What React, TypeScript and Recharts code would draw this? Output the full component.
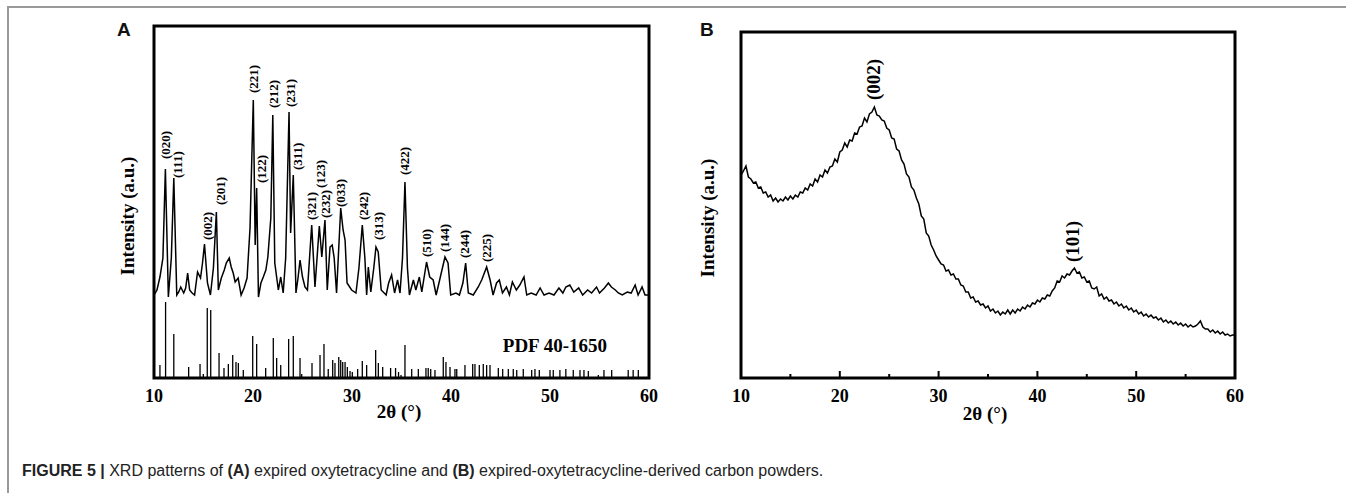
import React from 'react';
import { ComposedChart, Line, XAxis, YAxis, ReferenceLine, ReferenceArea, Scatter } from 'recharts';

const SERIF = '"Liberation Serif", "Times New Roman", serif';
const SANS = '"Liberation Sans", Arial, sans-serif';

// 2θ ticks shared by both panels
const thetaTicks = [10, 20, 30, 40, 50, 60];

// Panel A: measured pattern [2θ, intensity a.u.]
const patternA: [number, number][] = [
  [10.0, 83], [10.3, 88], [10.6, 101], [10.9, 120], [11.15, 209], [11.45, 81], [11.75, 120], [12.0, 200],
  [12.3, 83], [12.5, 86], [12.7, 91], [13.0, 85], [13.2, 90], [13.4, 105], [13.6, 88], [13.85, 85],
  [14.1, 83], [14.4, 106], [14.7, 100], [14.9, 115], [15.1, 134], [15.4, 95], [15.7, 83], [16.0, 110],
  [16.3, 166], [16.5, 88], [16.8, 100], [17.1, 108], [17.3, 115], [17.6, 120], [17.8, 111], [18.0, 105],
  [18.2, 96], [18.5, 100], [18.8, 83], [19.1, 90], [19.4, 100], [19.7, 150], [20.03, 278], [20.22, 133],
  [20.37, 190], [20.55, 81], [20.8, 95], [21.04, 101], [21.3, 108], [21.5, 121], [21.8, 160], [22.0, 263],
  [22.2, 115], [22.56, 88], [22.8, 101], [23.05, 85], [23.3, 120], [23.64, 266], [23.8, 145], [24.07, 203],
  [24.34, 85], [24.55, 100], [24.75, 118], [25.0, 101], [25.25, 91], [25.5, 88], [25.93, 153], [26.26, 91],
  [26.7, 152], [26.95, 121], [27.27, 158], [27.5, 88], [27.78, 131], [28.0, 133], [28.2, 120], [28.44, 85],
  [28.86, 170], [29.1, 148], [29.3, 138], [29.5, 95], [29.96, 88], [30.4, 85], [30.7, 110], [31.04, 153],
  [31.3, 120], [31.48, 83], [31.65, 111], [31.9, 86], [32.2, 110], [32.42, 131], [32.65, 126], [32.95, 88],
  [33.45, 83], [33.7, 95], [34.0, 103], [34.3, 85], [34.6, 98], [34.85, 85], [35.1, 120], [35.35, 196],
  [35.6, 110], [35.8, 83], [36.2, 98], [36.45, 88], [36.8, 101], [37.05, 86], [37.53, 116], [37.85, 101],
  [38.2, 98], [38.5, 83], [38.9, 100], [39.39, 121], [39.7, 115], [39.97, 83], [40.5, 85], [40.85, 83],
  [41.2, 95], [41.48, 115], [41.75, 85], [42.25, 83], [42.75, 91], [43.1, 98], [43.6, 111], [43.95, 98],
  [44.25, 83], [44.6, 95], [44.88, 98], [45.2, 85], [45.6, 91], [45.9, 83], [46.2, 96], [46.6, 88],
  [46.95, 93], [47.37, 101], [47.65, 83], [48.1, 85], [48.6, 83], [49.0, 90], [49.4, 83], [49.9, 85],
  [50.4, 83], [50.9, 90], [51.3, 85], [51.6, 91], [52.0, 93], [52.4, 86], [52.9, 90], [53.3, 83],
  [53.8, 88], [54.2, 85], [54.7, 91], [55.0, 85], [55.5, 90], [55.9, 95], [56.2, 91], [56.6, 88],
  [56.9, 85], [57.3, 83], [57.8, 86], [58.2, 85], [58.6, 93], [58.9, 83], [59.3, 91], [59.6, 83], [60.0, 83],
];

// Panel A: reference card PDF 40-1650 [2θ, relative height]
const pdfCard: [number, number][] = [
  [10.6, 13], [11.17, 76], [12.0, 44], [13.5, 11], [14.65, 14], [14.98, 4], [15.38, 70], [15.73, 68],
  [16.57, 25], [17.07, 10], [17.51, 14], [17.95, 23], [18.28, 16], [18.52, 15], [19.02, 8], [19.97, 42],
  [20.37, 34], [21.28, 10], [22.05, 40], [22.39, 20], [22.8, 13], [23.6, 39], [24.07, 42], [24.75, 20],
  [24.92, 4], [25.96, 15], [26.77, 23], [27.17, 34], [27.6, 9], [28.05, 18], [28.28, 15], [28.66, 21],
  [28.86, 18], [29.06, 16], [29.3, 16], [29.53, 11], [29.8, 7], [30.03, 6], [30.57, 9], [31.04, 17],
  [31.48, 13], [32.39, 28], [32.66, 15], [33.1, 11], [33.9, 10], [34.4, 10], [34.7, 6], [34.95, 3],
  [35.35, 33], [36.03, 9], [36.7, 9], [37.47, 10], [37.7, 10], [37.95, 9], [38.38, 8], [39.22, 21],
  [39.49, 16], [39.9, 11], [40.4, 9], [40.58, 9], [41.41, 13], [42.19, 14], [42.42, 14], [42.86, 13],
  [43.26, 14], [43.6, 13], [43.94, 13], [44.78, 10], [45.22, 9], [45.79, 9], [46.29, 9], [46.64, 8],
  [47.3, 9], [48.15, 8], [48.48, 9], [48.92, 8], [50.0, 8], [50.33, 8], [51.0, 8], [51.6, 9],
  [52.35, 8], [53.03, 8], [53.43, 8], [53.87, 7], [54.88, 3], [55.45, 8], [56.23, 8], [57.9, 8],
  [58.4, 8], [58.92, 8],
];

// Panel A: Miller index labels [hkl, 2θ, label foot]
const hklA: [string, number, number][] = [
  ['(020)', 11.18, 219], ['(111)', 12.38, 200], ['(002)', 15.39, 138], ['(201)', 16.67, 173],
  ['(221)', 20.03, 285], ['(122)', 20.87, 195], ['(212)', 22.05, 270], ['(231)', 23.74, 271],
  ['(311)', 24.5, 208], ['(321)', 25.86, 158], ['(123)', 26.77, 190], ['(232)', 27.34, 160],
  ['(033)', 28.79, 171], ['(242)', 31.14, 158], ['(313)', 32.65, 138], ['(422)', 35.35, 203],
  ['(510)', 37.54, 121], ['(144)', 39.39, 126], ['(244)', 41.41, 120], ['(225)', 43.6, 116],
];

// Panel B: carbon powder pattern, sampled every 0.25° from 10° to 60°
const startB = 10;
const stepB = 0.25;
const intensityB = [
  203, 207, 212, 201, 199, 195, 196, 190, 191, 185, 186, 181, 183, 177, 180, 176,
  179, 177, 181, 178, 182, 179, 183, 181, 186, 185, 190, 188, 194, 192, 199, 196,
  203, 201, 208, 205, 211, 212, 219, 216, 226, 228, 235, 231, 238, 237, 245, 244,
  251, 252, 260, 256, 264, 266, 271, 263, 262, 258, 257, 250, 248, 240, 239, 229,
  227, 218, 214, 204, 201, 191, 188, 180, 174, 162, 159, 145, 142, 133, 128, 122,
  118, 114, 113, 107, 108, 103, 104, 99, 99, 93, 92, 86, 86, 80, 81, 76,
  77, 73, 74, 70, 72, 67, 69, 65, 67, 63, 66, 64, 68, 64, 68, 65,
  69, 67, 71, 69, 73, 71, 75, 74, 78, 76, 80, 79, 83, 82, 87, 90,
  97, 96, 102, 100, 104, 103, 107, 110, 105, 106, 100, 101, 96, 97, 90, 89,
  91, 82, 84, 79, 81, 77, 78, 74, 76, 72, 74, 70, 72, 68, 70, 66,
  68, 64, 66, 62, 64, 61, 63, 60, 61, 58, 60, 56, 58, 55, 57, 54,
  56, 53, 55, 52, 54, 51, 53, 51, 52, 54, 57, 51, 49, 49, 46, 48,
  45, 47, 44, 46, 43, 44, 42, 43, 43,
];
const hklB: [string, number, number][] = [
  ['(002)', 23.4, 278],
  ['(101)', 43.6, 116],
];
const majorTicksB = [20, 30, 40, 50];
const minorTicksB = [15, 25, 35, 45, 55];

const dataA = patternA.map(([x, v]) => ({ x, v }));
const labelsA = hklA.map(([text, x, v]) => ({ text, x, v }));
const dataB = intensityB.map((v, i) => ({ x: startB + i * stepB, v }));
const labelsB = hklB.map(([text, x, v]) => ({ text, x, v }));
const cardLabel = [{ text: 'PDF 40-1650', x: 50.5, v: 26 }];

const verticalText = (size: number) => (props: any) => {
  const { cx, cy, payload } = props;
  return (
    <text
      x={cx}
      y={cy}
      transform={`rotate(-90 ${cx} ${cy})`}
      textAnchor="start"
      dominantBaseline="central"
      fontFamily={SERIF}
      fontWeight="bold"
      fontSize={size}
      fill="#000"
    >
      {payload.text}
    </text>
  );
};

const flatText = (props: any) => {
  const { cx, cy, payload } = props;
  return (
    <text x={cx} y={cy} textAnchor="middle" fontFamily={SERIF} fontWeight="bold" fontSize={19} fill="#000">
      {payload.text}
    </text>
  );
};

const tickStyle = { fill: '#000', fontSize: 18, fontWeight: 'bold', fontFamily: SERIF };

const abs = (left: number, top: number): React.CSSProperties => ({
  position: 'absolute',
  left,
  top,
  whiteSpace: 'nowrap',
});

export default function App() {
  return (
    <div style={{ position: 'absolute', left: 0, top: 0, width: 1346, height: 493, background: '#fff', overflow: 'hidden' }}>
      {/* figure frame */}
      <div style={{ position: 'absolute', left: 7, top: 6, width: 1339, height: 2, background: '#999' }} />
      <div style={{ position: 'absolute', left: 7, top: 6, width: 2, height: 487, background: '#999' }} />

      <div style={{ position: 'absolute', left: 0, top: 0 }}>
        <ComposedChart width={680} height={440} data={dataA} margin={{ top: 26, right: 31, bottom: 32, left: 154 }}>
          <XAxis
            dataKey="x"
            type="number"
            domain={[10, 60]}
            ticks={thetaTicks}
            axisLine={false}
            tickLine={false}
            tickMargin={5}
            tick={tickStyle}
            allowDataOverflow
          />
          <YAxis type="number" domain={[0, 352]} hide allowDataOverflow />
          {pdfCard.map(([x, h]) => (
            <ReferenceLine key={x} segment={[{ x, y: 0 }, { x, y: h }]} stroke="#000" strokeWidth={1.3} />
          ))}
          <Line dataKey="v" type="linear" stroke="#000" strokeWidth={1.5} dot={false} isAnimationActive={false} />
          <Scatter data={labelsA} dataKey="v" shape={verticalText(13)} isAnimationActive={false} />
          <Scatter data={cardLabel} dataKey="v" shape={flatText} isAnimationActive={false} />
          <ReferenceArea x1={10} x2={60} y1={0} y2={352} fill="none" stroke="#000" strokeWidth={3} />
        </ComposedChart>
      </div>

      <div style={{ position: 'absolute', left: 680, top: 0 }}>
        <ComposedChart width={600} height={440} data={dataB} margin={{ top: 32, right: 45, bottom: 32, left: 61 }}>
          <XAxis
            dataKey="x"
            type="number"
            domain={[10, 60]}
            ticks={thetaTicks}
            axisLine={false}
            tickLine={false}
            tickMargin={5}
            tick={tickStyle}
            allowDataOverflow
          />
          <YAxis type="number" domain={[0, 346]} hide allowDataOverflow />
          {majorTicksB.map((x) => (
            <ReferenceLine key={'M' + x} segment={[{ x, y: 0 }, { x, y: 7 }]} stroke="#000" strokeWidth={2} />
          ))}
          {minorTicksB.map((x) => (
            <ReferenceLine key={'m' + x} segment={[{ x, y: 0 }, { x, y: 4 }]} stroke="#000" strokeWidth={2} />
          ))}
          <Line dataKey="v" type="linear" stroke="#000" strokeWidth={1.5} dot={false} isAnimationActive={false} />
          <Scatter data={labelsB} dataKey="v" shape={verticalText(19)} isAnimationActive={false} />
          <ReferenceArea x1={10} x2={60} y1={0} y2={346} fill="none" stroke="#000" strokeWidth={3} />
        </ComposedChart>
      </div>

      {/* panel letters */}
      <div style={{ ...abs(117, 19), fontFamily: SANS, fontWeight: 'bold', fontSize: 19, color: '#111' }}>A</div>
      <div style={{ ...abs(700, 19), fontFamily: SANS, fontWeight: 'bold', fontSize: 19, color: '#111' }}>B</div>

      {/* axis titles */}
      {[
        { x: 399, y: 412, rot: 0, text: '2θ (°)' },
        { x: 985, y: 414, rot: 0, text: '2θ (°)' },
        { x: 128, y: 216, rot: -90, text: 'Intensity (a.u.)' },
        { x: 708, y: 218, rot: -90, text: 'Intensity (a.u.)' },
      ].map((t, i) => (
        <div
          key={i}
          style={{
            ...abs(t.x, t.y),
            transform: `translate(-50%, -50%) rotate(${t.rot}deg)`,
            fontFamily: SERIF,
            fontWeight: 'bold',
            fontSize: 19,
            color: '#000',
          }}
        >
          {t.text}
        </div>
      ))}

      {/* caption */}
      <div style={{ ...abs(22, 462), fontFamily: SANS, fontSize: 16, color: '#222' }}>
        <b>FIGURE 5 |</b> XRD patterns of <b>(A)</b> expired oxytetracycline and <b>(B)</b> expired-oxytetracycline-derived carbon powders.
      </div>
    </div>
  );
}
